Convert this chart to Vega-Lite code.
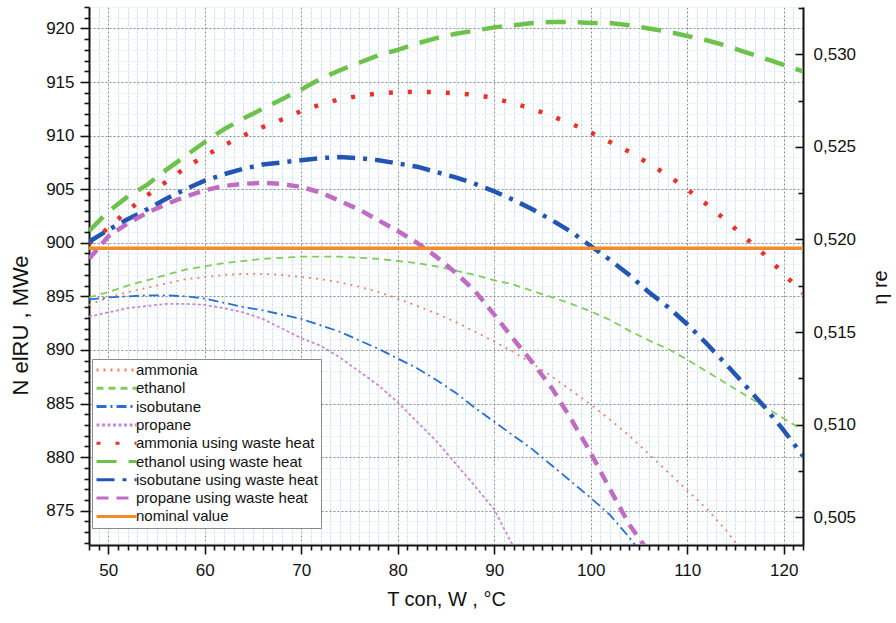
{
  "$schema": "https://vega.github.io/schema/vega-lite/v6.json",
  "width": 714,
  "height": 538,
  "autosize": {"type": "none"},
  "padding": {"left": 89, "top": 7, "right": 93, "bottom": 78},
  "background": "white",
  "config": {
    "view": {"stroke": null},
    "axis": {"labelFont": "Liberation Sans", "titleFont": "Liberation Sans", "labelColor": "#111", "titleColor": "#111", "titleFontWeight": "normal"},
    "legend": {"labelFont": "Liberation Sans"}
  },
  "datasets": {
    "curves": [
      {"s": "ammonia", "T": 48, "N": 894.2}, {"s": "ammonia", "T": 50, "N": 894.9}, {"s": "ammonia", "T": 52, "N": 895.4}, {"s": "ammonia", "T": 54, "N": 895.8}, {"s": "ammonia", "T": 56, "N": 896.2}, {"s": "ammonia", "T": 58, "N": 896.6}, {"s": "ammonia", "T": 60, "N": 896.8}, {"s": "ammonia", "T": 62, "N": 897.0}, {"s": "ammonia", "T": 64, "N": 897.1}, {"s": "ammonia", "T": 66, "N": 897.1}, {"s": "ammonia", "T": 68, "N": 897.0}, {"s": "ammonia", "T": 70, "N": 896.8}, {"s": "ammonia", "T": 72, "N": 896.6}, {"s": "ammonia", "T": 74, "N": 896.3}, {"s": "ammonia", "T": 76, "N": 895.9}, {"s": "ammonia", "T": 78, "N": 895.4}, {"s": "ammonia", "T": 80, "N": 894.8}, {"s": "ammonia", "T": 82, "N": 894.1}, {"s": "ammonia", "T": 84, "N": 893.4}, {"s": "ammonia", "T": 86, "N": 892.6}, {"s": "ammonia", "T": 88, "N": 891.7}, {"s": "ammonia", "T": 90, "N": 890.8}, {"s": "ammonia", "T": 92, "N": 889.8}, {"s": "ammonia", "T": 94, "N": 888.7}, {"s": "ammonia", "T": 96, "N": 887.5}, {"s": "ammonia", "T": 98, "N": 886.2}, {"s": "ammonia", "T": 100, "N": 884.9}, {"s": "ammonia", "T": 102, "N": 883.5}, {"s": "ammonia", "T": 104, "N": 882.0}, {"s": "ammonia", "T": 106, "N": 880.3}, {"s": "ammonia", "T": 108, "N": 878.6}, {"s": "ammonia", "T": 110, "N": 876.9}, {"s": "ammonia", "T": 112, "N": 875.2}, {"s": "ammonia", "T": 114, "N": 873.2}, {"s": "ammonia", "T": 115.2, "N": 871.8},

      {"s": "ethanol", "T": 48, "N": 894.9}, {"s": "ethanol", "T": 50, "N": 895.4}, {"s": "ethanol", "T": 52, "N": 896.0}, {"s": "ethanol", "T": 54, "N": 896.5}, {"s": "ethanol", "T": 56, "N": 897.0}, {"s": "ethanol", "T": 58, "N": 897.5}, {"s": "ethanol", "T": 60, "N": 897.8}, {"s": "ethanol", "T": 62, "N": 898.1}, {"s": "ethanol", "T": 64, "N": 898.3}, {"s": "ethanol", "T": 66, "N": 898.5}, {"s": "ethanol", "T": 68, "N": 898.6}, {"s": "ethanol", "T": 70, "N": 898.7}, {"s": "ethanol", "T": 72, "N": 898.7}, {"s": "ethanol", "T": 74, "N": 898.7}, {"s": "ethanol", "T": 76, "N": 898.6}, {"s": "ethanol", "T": 78, "N": 898.5}, {"s": "ethanol", "T": 80, "N": 898.3}, {"s": "ethanol", "T": 82, "N": 898.1}, {"s": "ethanol", "T": 84, "N": 897.8}, {"s": "ethanol", "T": 86, "N": 897.4}, {"s": "ethanol", "T": 88, "N": 897.0}, {"s": "ethanol", "T": 90, "N": 896.5}, {"s": "ethanol", "T": 92, "N": 896.1}, {"s": "ethanol", "T": 94, "N": 895.5}, {"s": "ethanol", "T": 96, "N": 894.9}, {"s": "ethanol", "T": 98, "N": 894.3}, {"s": "ethanol", "T": 100, "N": 893.6}, {"s": "ethanol", "T": 102, "N": 892.8}, {"s": "ethanol", "T": 104, "N": 891.8}, {"s": "ethanol", "T": 106, "N": 890.9}, {"s": "ethanol", "T": 108, "N": 890.1}, {"s": "ethanol", "T": 110, "N": 889.1}, {"s": "ethanol", "T": 112, "N": 888.0}, {"s": "ethanol", "T": 114, "N": 886.9}, {"s": "ethanol", "T": 116, "N": 885.8}, {"s": "ethanol", "T": 118, "N": 884.7}, {"s": "ethanol", "T": 120, "N": 883.6}, {"s": "ethanol", "T": 122, "N": 882.5},

      {"s": "isobutane", "T": 48, "N": 894.7}, {"s": "isobutane", "T": 50, "N": 894.9}, {"s": "isobutane", "T": 52, "N": 895.0}, {"s": "isobutane", "T": 54, "N": 895.1}, {"s": "isobutane", "T": 56, "N": 895.1}, {"s": "isobutane", "T": 58, "N": 895.0}, {"s": "isobutane", "T": 60, "N": 894.8}, {"s": "isobutane", "T": 62, "N": 894.4}, {"s": "isobutane", "T": 64, "N": 894.0}, {"s": "isobutane", "T": 66, "N": 893.7}, {"s": "isobutane", "T": 68, "N": 893.3}, {"s": "isobutane", "T": 70, "N": 892.9}, {"s": "isobutane", "T": 72, "N": 892.3}, {"s": "isobutane", "T": 74, "N": 891.7}, {"s": "isobutane", "T": 76, "N": 890.9}, {"s": "isobutane", "T": 78, "N": 890.1}, {"s": "isobutane", "T": 80, "N": 889.2}, {"s": "isobutane", "T": 82, "N": 888.3}, {"s": "isobutane", "T": 84, "N": 887.2}, {"s": "isobutane", "T": 86, "N": 886.0}, {"s": "isobutane", "T": 88, "N": 884.6}, {"s": "isobutane", "T": 90, "N": 883.3}, {"s": "isobutane", "T": 92, "N": 882.0}, {"s": "isobutane", "T": 94, "N": 880.7}, {"s": "isobutane", "T": 96, "N": 879.2}, {"s": "isobutane", "T": 98, "N": 877.7}, {"s": "isobutane", "T": 100, "N": 876.2}, {"s": "isobutane", "T": 102, "N": 874.6}, {"s": "isobutane", "T": 104, "N": 872.5}, {"s": "isobutane", "T": 104.6, "N": 871.8},

      {"s": "propane", "T": 48, "N": 893.1}, {"s": "propane", "T": 50, "N": 893.5}, {"s": "propane", "T": 52, "N": 893.9}, {"s": "propane", "T": 54, "N": 894.1}, {"s": "propane", "T": 56, "N": 894.3}, {"s": "propane", "T": 58, "N": 894.3}, {"s": "propane", "T": 60, "N": 894.2}, {"s": "propane", "T": 62, "N": 893.9}, {"s": "propane", "T": 64, "N": 893.5}, {"s": "propane", "T": 66, "N": 892.9}, {"s": "propane", "T": 68, "N": 892.0}, {"s": "propane", "T": 70, "N": 891.1}, {"s": "propane", "T": 72, "N": 890.4}, {"s": "propane", "T": 74, "N": 889.3}, {"s": "propane", "T": 76, "N": 888.0}, {"s": "propane", "T": 78, "N": 886.7}, {"s": "propane", "T": 80, "N": 885.1}, {"s": "propane", "T": 82, "N": 883.3}, {"s": "propane", "T": 84, "N": 881.5}, {"s": "propane", "T": 86, "N": 879.4}, {"s": "propane", "T": 88, "N": 877.3}, {"s": "propane", "T": 90, "N": 875.1}, {"s": "propane", "T": 91.9, "N": 871.8},

      {"s": "ammonia using waste heat", "T": 48, "N": 899.9}, {"s": "ammonia using waste heat", "T": 50, "N": 901.4}, {"s": "ammonia using waste heat", "T": 52, "N": 903.0}, {"s": "ammonia using waste heat", "T": 54, "N": 904.4}, {"s": "ammonia using waste heat", "T": 56, "N": 905.7}, {"s": "ammonia using waste heat", "T": 58, "N": 907.0}, {"s": "ammonia using waste heat", "T": 60, "N": 908.1}, {"s": "ammonia using waste heat", "T": 62, "N": 909.1}, {"s": "ammonia using waste heat", "T": 64, "N": 910.0}, {"s": "ammonia using waste heat", "T": 66, "N": 910.8}, {"s": "ammonia using waste heat", "T": 68, "N": 911.5}, {"s": "ammonia using waste heat", "T": 70, "N": 912.3}, {"s": "ammonia using waste heat", "T": 72, "N": 912.9}, {"s": "ammonia using waste heat", "T": 74, "N": 913.4}, {"s": "ammonia using waste heat", "T": 76, "N": 913.7}, {"s": "ammonia using waste heat", "T": 78, "N": 913.95}, {"s": "ammonia using waste heat", "T": 80, "N": 914.05}, {"s": "ammonia using waste heat", "T": 82, "N": 914.1}, {"s": "ammonia using waste heat", "T": 84, "N": 914.05}, {"s": "ammonia using waste heat", "T": 86, "N": 913.95}, {"s": "ammonia using waste heat", "T": 88, "N": 913.8}, {"s": "ammonia using waste heat", "T": 90, "N": 913.5}, {"s": "ammonia using waste heat", "T": 92, "N": 913.0}, {"s": "ammonia using waste heat", "T": 94, "N": 912.5}, {"s": "ammonia using waste heat", "T": 96, "N": 911.8}, {"s": "ammonia using waste heat", "T": 98, "N": 911.1}, {"s": "ammonia using waste heat", "T": 100, "N": 910.3}, {"s": "ammonia using waste heat", "T": 102, "N": 909.4}, {"s": "ammonia using waste heat", "T": 104, "N": 908.5}, {"s": "ammonia using waste heat", "T": 106, "N": 907.4}, {"s": "ammonia using waste heat", "T": 108, "N": 906.3}, {"s": "ammonia using waste heat", "T": 110, "N": 905.0}, {"s": "ammonia using waste heat", "T": 112, "N": 903.6}, {"s": "ammonia using waste heat", "T": 114, "N": 902.1}, {"s": "ammonia using waste heat", "T": 116, "N": 900.5}, {"s": "ammonia using waste heat", "T": 118, "N": 898.9}, {"s": "ammonia using waste heat", "T": 120, "N": 897.1}, {"s": "ammonia using waste heat", "T": 122, "N": 895.3},

      {"s": "ethanol using waste heat", "T": 48, "N": 901.1}, {"s": "ethanol using waste heat", "T": 50, "N": 902.9}, {"s": "ethanol using waste heat", "T": 52, "N": 904.3}, {"s": "ethanol using waste heat", "T": 54, "N": 905.4}, {"s": "ethanol using waste heat", "T": 56, "N": 906.8}, {"s": "ethanol using waste heat", "T": 58, "N": 908.1}, {"s": "ethanol using waste heat", "T": 60, "N": 909.4}, {"s": "ethanol using waste heat", "T": 62, "N": 910.6}, {"s": "ethanol using waste heat", "T": 64, "N": 911.6}, {"s": "ethanol using waste heat", "T": 66, "N": 912.5}, {"s": "ethanol using waste heat", "T": 68, "N": 913.4}, {"s": "ethanol using waste heat", "T": 70, "N": 914.3}, {"s": "ethanol using waste heat", "T": 72, "N": 915.3}, {"s": "ethanol using waste heat", "T": 74, "N": 916.1}, {"s": "ethanol using waste heat", "T": 76, "N": 916.8}, {"s": "ethanol using waste heat", "T": 78, "N": 917.5}, {"s": "ethanol using waste heat", "T": 80, "N": 918.0}, {"s": "ethanol using waste heat", "T": 82, "N": 918.6}, {"s": "ethanol using waste heat", "T": 84, "N": 919.1}, {"s": "ethanol using waste heat", "T": 86, "N": 919.5}, {"s": "ethanol using waste heat", "T": 88, "N": 919.8}, {"s": "ethanol using waste heat", "T": 90, "N": 920.1}, {"s": "ethanol using waste heat", "T": 92, "N": 920.3}, {"s": "ethanol using waste heat", "T": 94, "N": 920.5}, {"s": "ethanol using waste heat", "T": 96, "N": 920.6}, {"s": "ethanol using waste heat", "T": 98, "N": 920.6}, {"s": "ethanol using waste heat", "T": 100, "N": 920.5}, {"s": "ethanol using waste heat", "T": 102, "N": 920.5}, {"s": "ethanol using waste heat", "T": 104, "N": 920.3}, {"s": "ethanol using waste heat", "T": 106, "N": 920.0}, {"s": "ethanol using waste heat", "T": 108, "N": 919.7}, {"s": "ethanol using waste heat", "T": 110, "N": 919.3}, {"s": "ethanol using waste heat", "T": 112, "N": 918.9}, {"s": "ethanol using waste heat", "T": 114, "N": 918.4}, {"s": "ethanol using waste heat", "T": 116, "N": 917.8}, {"s": "ethanol using waste heat", "T": 118, "N": 917.2}, {"s": "ethanol using waste heat", "T": 120, "N": 916.6}, {"s": "ethanol using waste heat", "T": 122, "N": 916.0},

      {"s": "isobutane using waste heat", "T": 48, "N": 900.1}, {"s": "isobutane using waste heat", "T": 50, "N": 901.2}, {"s": "isobutane using waste heat", "T": 52, "N": 902.2}, {"s": "isobutane using waste heat", "T": 54, "N": 903.1}, {"s": "isobutane using waste heat", "T": 56, "N": 904.1}, {"s": "isobutane using waste heat", "T": 58, "N": 905.0}, {"s": "isobutane using waste heat", "T": 60, "N": 905.8}, {"s": "isobutane using waste heat", "T": 62, "N": 906.4}, {"s": "isobutane using waste heat", "T": 64, "N": 906.9}, {"s": "isobutane using waste heat", "T": 66, "N": 907.3}, {"s": "isobutane using waste heat", "T": 68, "N": 907.5}, {"s": "isobutane using waste heat", "T": 70, "N": 907.7}, {"s": "isobutane using waste heat", "T": 72, "N": 907.9}, {"s": "isobutane using waste heat", "T": 74, "N": 908.0}, {"s": "isobutane using waste heat", "T": 76, "N": 907.9}, {"s": "isobutane using waste heat", "T": 78, "N": 907.7}, {"s": "isobutane using waste heat", "T": 80, "N": 907.4}, {"s": "isobutane using waste heat", "T": 82, "N": 907.1}, {"s": "isobutane using waste heat", "T": 84, "N": 906.6}, {"s": "isobutane using waste heat", "T": 86, "N": 906.1}, {"s": "isobutane using waste heat", "T": 88, "N": 905.5}, {"s": "isobutane using waste heat", "T": 90, "N": 904.8}, {"s": "isobutane using waste heat", "T": 92, "N": 904.0}, {"s": "isobutane using waste heat", "T": 94, "N": 903.1}, {"s": "isobutane using waste heat", "T": 96, "N": 902.1}, {"s": "isobutane using waste heat", "T": 98, "N": 901.0}, {"s": "isobutane using waste heat", "T": 100, "N": 899.7}, {"s": "isobutane using waste heat", "T": 102, "N": 898.4}, {"s": "isobutane using waste heat", "T": 104, "N": 897.0}, {"s": "isobutane using waste heat", "T": 106, "N": 895.4}, {"s": "isobutane using waste heat", "T": 108, "N": 894.0}, {"s": "isobutane using waste heat", "T": 110, "N": 892.4}, {"s": "isobutane using waste heat", "T": 112, "N": 890.6}, {"s": "isobutane using waste heat", "T": 114, "N": 888.7}, {"s": "isobutane using waste heat", "T": 116, "N": 886.7}, {"s": "isobutane using waste heat", "T": 118, "N": 884.7}, {"s": "isobutane using waste heat", "T": 120, "N": 882.5}, {"s": "isobutane using waste heat", "T": 122, "N": 880.1},

      {"s": "propane using waste heat", "T": 48, "N": 898.5}, {"s": "propane using waste heat", "T": 50, "N": 900.6}, {"s": "propane using waste heat", "T": 52, "N": 901.8}, {"s": "propane using waste heat", "T": 54, "N": 902.8}, {"s": "propane using waste heat", "T": 56, "N": 903.6}, {"s": "propane using waste heat", "T": 58, "N": 904.3}, {"s": "propane using waste heat", "T": 60, "N": 904.9}, {"s": "propane using waste heat", "T": 62, "N": 905.3}, {"s": "propane using waste heat", "T": 64, "N": 905.5}, {"s": "propane using waste heat", "T": 66, "N": 905.6}, {"s": "propane using waste heat", "T": 68, "N": 905.5}, {"s": "propane using waste heat", "T": 70, "N": 905.2}, {"s": "propane using waste heat", "T": 72, "N": 904.7}, {"s": "propane using waste heat", "T": 74, "N": 903.9}, {"s": "propane using waste heat", "T": 76, "N": 903.1}, {"s": "propane using waste heat", "T": 78, "N": 902.1}, {"s": "propane using waste heat", "T": 80, "N": 901.1}, {"s": "propane using waste heat", "T": 82, "N": 900.0}, {"s": "propane using waste heat", "T": 84, "N": 898.7}, {"s": "propane using waste heat", "T": 86, "N": 897.2}, {"s": "propane using waste heat", "T": 88, "N": 895.5}, {"s": "propane using waste heat", "T": 90, "N": 893.3}, {"s": "propane using waste heat", "T": 92, "N": 891.0}, {"s": "propane using waste heat", "T": 94, "N": 888.8}, {"s": "propane using waste heat", "T": 96, "N": 886.4}, {"s": "propane using waste heat", "T": 98, "N": 883.5}, {"s": "propane using waste heat", "T": 100, "N": 880.4}, {"s": "propane using waste heat", "T": 102, "N": 877.0}, {"s": "propane using waste heat", "T": 104, "N": 873.7}, {"s": "propane using waste heat", "T": 105.5, "N": 871.8},

      {"s": "nominal value", "T": 48, "N": 899.5}, {"s": "nominal value", "T": 122, "N": 899.5}
    ],
    "eta": [{"eta": 0.5035}, {"eta": 0.53255}]
  },
  "layer": [
    {
      "data": {"name": "curves"},
      "transform": [{"filter": {"field": "s", "oneOf": ["ammonia", "ethanol", "isobutane", "propane"]}}],
      "mark": {"type": "line", "clip": true, "strokeWidth": 1.8},
      "encoding": {
        "x": {
          "field": "T", "type": "quantitative",
          "scale": {"domain": [48, 122], "nice": false, "zero": false},
          "axis": {
            "values": [48,49,50,51,52,53,54,55,56,57,58,59,60,61,62,63,64,65,66,67,68,69,70,71,72,73,74,75,76,77,78,79,80,81,82,83,84,85,86,87,88,89,90,91,92,93,94,95,96,97,98,99,100,101,102,103,104,105,106,107,108,109,110,111,112,113,114,115,116,117,118,119,120,121,122],
            "title": "T con, W , °C",
            "titleFontSize": 20, "titleY": 60, "titleBaseline": "alphabetic",
            "grid": true,
            "gridColor": {"condition": {"test": "datum.value % 10 === 0", "value": "#7d8e98"}, "value": "#cbe4f3"},
            "gridDash": {"condition": {"test": "datum.value % 10 === 0", "value": [2, 2]}, "value": [3, 1]},
            "gridWidth": 1,
            "tickSize": {"condition": {"test": "datum.value % 10 === 0", "value": 9}, "value": 5},
            "tickColor": "#111", "tickWidth": 1.6,
            "domainColor": "#111", "domainWidth": 2,
            "labelExpr": "datum.value % 10 === 0 ? datum.label : ''",
            "labelFontSize": 17, "labelPadding": 8, "labelOverlap": false, "labelFlush": false
          }
        },
        "y": {
          "field": "N", "type": "quantitative",
          "scale": {"domain": [871.8, 922], "nice": false, "zero": false},
          "axis": {
            "orient": "left",
            "values": [872,873,874,875,876,877,878,879,880,881,882,883,884,885,886,887,888,889,890,891,892,893,894,895,896,897,898,899,900,901,902,903,904,905,906,907,908,909,910,911,912,913,914,915,916,917,918,919,920,921,922],
            "title": "N elRU ,  MWe",
            "titleFontSize": 22, "titleAngle": 270, "titleX": -62, "titleY": 318, "titleAlign": "center", "titleBaseline": "alphabetic",
            "grid": true,
            "gridColor": {"condition": {"test": "datum.value % 5 === 0", "value": "#7d8e98"}, "value": "#e6f1f9"},
            "gridDash": {"condition": {"test": "datum.value % 5 === 0", "value": [2, 2]}, "value": [3, 1]},
            "gridWidth": 1,
            "tickSize": {"condition": {"test": "datum.value % 5 === 0", "value": 9}, "value": 5},
            "tickColor": "#111", "tickWidth": 1.6,
            "domainColor": "#111", "domainWidth": 2,
            "labelExpr": "datum.value % 5 === 0 ? datum.label : ''",
            "labelFontSize": 17, "labelPadding": 6, "labelOverlap": false, "labelFlush": false
          }
        },
        "color": {
          "field": "s", "type": "nominal",
          "scale": {
            "domain": ["ammonia", "ethanol", "isobutane", "propane", "ammonia using waste heat", "ethanol using waste heat", "isobutane using waste heat", "propane using waste heat", "nominal value"],
            "range": ["#f3806a", "#80cc5c", "#2a6ed2", "#c889d8", "#e8322a", "#6cc24a", "#2355b5", "#c06cc4", "#f28c28"]
          },
          "legend": {
            "orient": "none", "legendX": 3, "legendY": 352,
            "title": null,
            "symbolType": "stroke", "symbolSize": 1600, "symbolStrokeWidth": 3,
            "clipHeight": 16, "rowPadding": 2.3,
            "labelFontSize": 15, "labelColor": "#111", "labelOffset": -2, "labelLimit": 300,
            "padding": 3, "strokeColor": "#8a8a8a", "fillColor": "white"
          }
        },
        "strokeDash": {
          "field": "s", "type": "nominal",
          "scale": {
            "domain": ["ammonia", "ethanol", "isobutane", "propane", "ammonia using waste heat", "ethanol using waste heat", "isobutane using waste heat", "propane using waste heat", "nominal value"],
            "range": [[2, 5], [7, 5], [10, 4, 2, 4], [3, 2.5], [4, 15], [20, 12], [18, 8, 4, 8], [12, 8], [1, 0]]
          }
        },
        "order": {"field": "T", "type": "quantitative"}
      }
    },
    {
      "data": {"name": "curves"},
      "transform": [{"filter": {"field": "s", "oneOf": ["ammonia using waste heat", "ethanol using waste heat", "isobutane using waste heat", "propane using waste heat"]}}],
      "mark": {"type": "line", "clip": true, "strokeWidth": 4.5},
      "encoding": {
        "x": {
          "field": "T", "type": "quantitative",
          "scale": {"domain": [48, 122], "nice": false, "zero": false},
          "axis": {
            "values": [48,49,50,51,52,53,54,55,56,57,58,59,60,61,62,63,64,65,66,67,68,69,70,71,72,73,74,75,76,77,78,79,80,81,82,83,84,85,86,87,88,89,90,91,92,93,94,95,96,97,98,99,100,101,102,103,104,105,106,107,108,109,110,111,112,113,114,115,116,117,118,119,120,121,122],
            "title": "T con, W , °C",
            "titleFontSize": 20, "titleY": 60, "titleBaseline": "alphabetic",
            "grid": true,
            "gridColor": {"condition": {"test": "datum.value % 10 === 0", "value": "#7d8e98"}, "value": "#cbe4f3"},
            "gridDash": {"condition": {"test": "datum.value % 10 === 0", "value": [2, 2]}, "value": [3, 1]},
            "gridWidth": 1,
            "tickSize": {"condition": {"test": "datum.value % 10 === 0", "value": 9}, "value": 5},
            "tickColor": "#111", "tickWidth": 1.6,
            "domainColor": "#111", "domainWidth": 2,
            "labelExpr": "datum.value % 10 === 0 ? datum.label : ''",
            "labelFontSize": 17, "labelPadding": 8, "labelOverlap": false, "labelFlush": false
          }
        },
        "y": {"field": "N", "type": "quantitative", "scale": {"domain": [871.8, 922], "nice": false, "zero": false}, "axis": null},
        "color": {"field": "s", "type": "nominal", "legend": null},
        "strokeDash": {"field": "s", "type": "nominal", "legend": null},
        "order": {"field": "T", "type": "quantitative"}
      }
    },
    {
      "data": {"name": "curves"},
      "transform": [{"filter": {"field": "s", "equal": "nominal value"}}],
      "mark": {"type": "line", "clip": true, "strokeWidth": 3.5},
      "encoding": {
        "x": {
          "field": "T", "type": "quantitative",
          "scale": {"domain": [48, 122], "nice": false, "zero": false},
          "axis": {
            "values": [48,49,50,51,52,53,54,55,56,57,58,59,60,61,62,63,64,65,66,67,68,69,70,71,72,73,74,75,76,77,78,79,80,81,82,83,84,85,86,87,88,89,90,91,92,93,94,95,96,97,98,99,100,101,102,103,104,105,106,107,108,109,110,111,112,113,114,115,116,117,118,119,120,121,122],
            "title": "T con, W , °C",
            "titleFontSize": 20, "titleY": 60, "titleBaseline": "alphabetic",
            "grid": true,
            "gridColor": {"condition": {"test": "datum.value % 10 === 0", "value": "#7d8e98"}, "value": "#cbe4f3"},
            "gridDash": {"condition": {"test": "datum.value % 10 === 0", "value": [2, 2]}, "value": [3, 1]},
            "gridWidth": 1,
            "tickSize": {"condition": {"test": "datum.value % 10 === 0", "value": 9}, "value": 5},
            "tickColor": "#111", "tickWidth": 1.6,
            "domainColor": "#111", "domainWidth": 2,
            "labelExpr": "datum.value % 10 === 0 ? datum.label : ''",
            "labelFontSize": 17, "labelPadding": 8, "labelOverlap": false, "labelFlush": false
          }
        },
        "y": {"field": "N", "type": "quantitative", "scale": {"domain": [871.8, 922], "nice": false, "zero": false}, "axis": null},
        "color": {"field": "s", "type": "nominal", "legend": null},
        "strokeDash": {"field": "s", "type": "nominal", "legend": null},
        "order": {"field": "T", "type": "quantitative"}
      }
    },
    {
      "data": {"name": "eta"},
      "mark": {"type": "point", "opacity": 0},
      "encoding": {
        "y": {
          "field": "eta", "type": "quantitative",
          "scale": {"domain": [0.5035, 0.53255], "nice": false, "zero": false},
          "axis": {
            "orient": "right",
            "values": [0.505, 0.5075, 0.51, 0.5125, 0.515, 0.5175, 0.52, 0.5225, 0.525, 0.5275, 0.53, 0.5325],
            "title": "η re",
            "titleFontSize": 20, "titleAngle": 270, "titleX": 83, "titleY": 280, "titleAlign": "center", "titleBaseline": "alphabetic",
            "grid": false,
            "tickSize": {"condition": {"test": "round(datum.value * 10000) % 50 === 0", "value": -8}, "value": -5},
            "tickColor": "#111", "tickWidth": 1.6,
            "domainColor": "#111", "domainWidth": 2,
            "labelExpr": "round(datum.value * 10000) % 50 === 0 ? replace(format(datum.value, '.3f'), '.', ',') : ''",
            "labelFontSize": 17, "labelPadding": 18, "labelOverlap": false, "labelFlush": false
          }
        }
      }
    }
  ],
  "resolve": {"scale": {"y": "independent"}, "axis": {"y": "independent"}}
}
